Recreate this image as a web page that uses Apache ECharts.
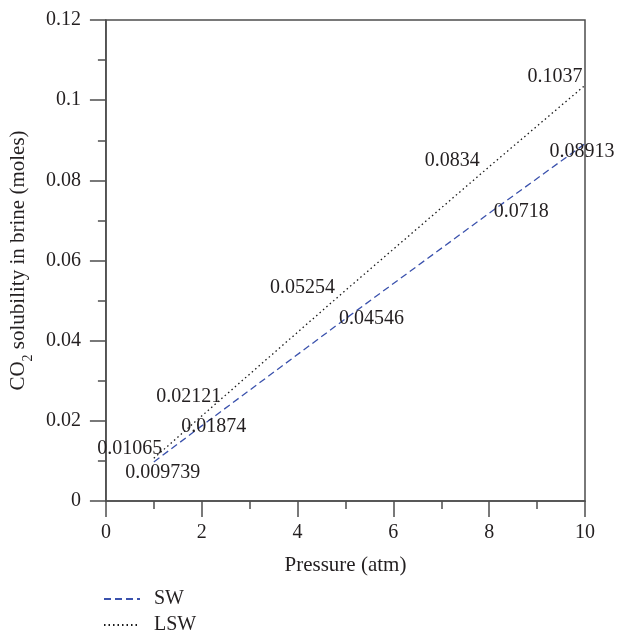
<!DOCTYPE html>
<html>
<head>
<meta charset="utf-8">
<script src="https://cdn.jsdelivr.net/npm/echarts@6/dist/echarts.min.js"></script>
<style>
  html, body { margin: 0; padding: 0; background: #fff; }
  #chart { width: 617px; height: 633px; }
</style>
</head>
<body>
<div id="chart"></div>
<script>
// Pressure steps (atm) and CO2 solubility (moles) for each brine type
const pressure = [1, 2, 5, 8, 10];
const swValues = [0.009739, 0.01874, 0.04546, 0.0718, 0.08913];
const lswValues = [0.01065, 0.02121, 0.05254, 0.0834, 0.1037];
const seriesNames = ['SW', 'LSW'];

// Where each value label sits relative to its point (px)
const swLabelOffsets = [[9, 11], [12, 1], [26, 0], [32, -1], [-3, 8]];
const lswLabelOffsets = [[-24, -10], [-13, -19], [-43, -3], [-37, -6], [-30, -9]];

const FONT = '"Liberation Serif", "DejaVu Serif", serif';
const TEXT = '#231f20';
const AXIS = '#4d4d4d';

function buildData(values, offsets) {
  return pressure.map((p, i) => ({
    value: [p, values[i]],
    label: { offset: offsets[i] }
  }));
}

function makeSeries(name, values, offsets, color, dash) {
  return {
    name: name,
    type: 'line',
    data: buildData(values, offsets),
    showSymbol: true,
    symbol: 'circle',
    symbolSize: 1,
    itemStyle: { color: 'rgba(0,0,0,0)', borderWidth: 0 },
    lineStyle: { color: color, width: 1.3, type: dash },
    label: {
      show: true,
      position: 'inside',
      formatter: (p) => String(p.value[1]),
      fontFamily: FONT,
      fontSize: 20,
      color: TEXT
    },
    emphasis: { disabled: true },
    animation: false,
    z: 3
  };
}

function makeLegend(name, top) {
  return {
    orient: 'vertical',
    left: 103,
    top: top,
    padding: 0,
    itemWidth: 36,
    itemHeight: 14,
    data: [name],
    textStyle: { fontFamily: FONT, fontSize: 20, color: TEXT, padding: [0, 0, 0, 9] }
  };
}

const chart = echarts.init(document.getElementById('chart'), null, { renderer: 'canvas' });

chart.setOption({
  backgroundColor: '#ffffff',
  animation: false,
  grid: { left: 104, right: 32, top: 20, bottom: 132, containLabel: false,
          show: true, borderColor: AXIS, borderWidth: 1.5, backgroundColor: 'transparent' },
  legend: [makeLegend(seriesNames[0], 589), makeLegend(seriesNames[1], 615)],
  xAxis: {
    type: 'value',
    min: 0, max: 10, interval: 2,
    name: 'Pressure (atm)',
    nameLocation: 'middle',
    nameGap: 54,
    nameTextStyle: { fontFamily: FONT, fontSize: 21, color: TEXT },
    axisLine: { show: true, lineStyle: { color: AXIS, width: 1.5 } },
    axisTick: { show: true, inside: false, length: 16, lineStyle: { color: AXIS, width: 1.5 } },
    minorTick: { show: true, splitNumber: 2, length: 8, lineStyle: { color: AXIS, width: 1.5 } },
    splitLine: { show: false },
    axisLabel: { fontFamily: FONT, fontSize: 20, color: TEXT, margin: 22 }
  },
  yAxis: {
    type: 'value',
    min: 0, max: 0.12, interval: 0.02,
    name: '{t|CO}{s|2}{t| solubility in brine (moles)}',
    nameLocation: 'middle',
    nameGap: 74,
    nameRotate: 90,
    nameTextStyle: {
      rich: {
        t: { fontFamily: FONT, fontSize: 21, color: TEXT, verticalAlign: 'bottom', lineHeight: 24 },
        s: { fontFamily: FONT, fontSize: 14, color: TEXT, verticalAlign: 'bottom', lineHeight: 24, padding: [0, 0, -6, 0] }
      }
    },
    axisLine: { show: true, lineStyle: { color: AXIS, width: 1.5 } },
    axisTick: { show: true, inside: false, length: 16, lineStyle: { color: AXIS, width: 1.5 } },
    minorTick: { show: true, splitNumber: 2, length: 8, lineStyle: { color: AXIS, width: 1.5 } },
    splitLine: { show: false },
    axisLabel: { fontFamily: FONT, fontSize: 20, color: TEXT, margin: 25,
                 formatter: (v) => String(Math.round(v * 100) / 100) }
  },
  series: [
    makeSeries(seriesNames[0], swValues, swLabelOffsets, '#3b52ad', [7, 4]),
    makeSeries(seriesNames[1], lswValues, lswLabelOffsets, '#1a1a1a', [1.5, 3])
  ]
});
</script>
</body>
</html>
